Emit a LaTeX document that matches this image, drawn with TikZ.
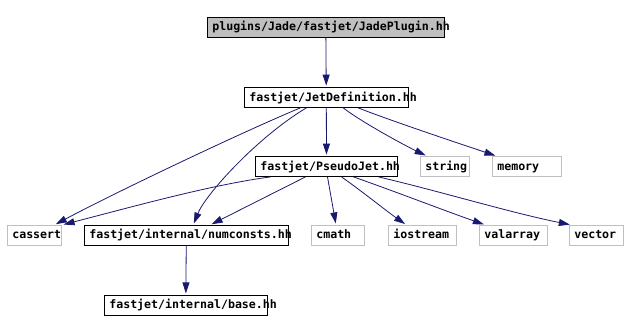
\documentclass[tikz,border=0pt]{standalone}
\usepackage{fontspec}
\usetikzlibrary{arrows.meta, calc}
\newfontfamily\depfont{DejaVu Sans Mono}[HyphenChar=None]
\definecolor{edgeblue}{HTML}{191970}
\definecolor{sysgray}{HTML}{BFBFBF}

\begin{document}
\begin{tikzpicture}[
    x=1pt, y=-1pt,
    box/.style={rectangle, draw=black, line width=0.8pt,
                minimum height=20pt, inner xsep=5pt, inner ysep=0pt,
                align=left, text height=9pt, text depth=2pt,
                font=\depfont\bfseries\fontsize{11.6}{12}\selectfont},
    sysbox/.style={box, draw=sysgray},
    rootbox/.style={box, fill=sysgray},
    arr/.style={-{Triangle[length=11pt, width=7pt]}, draw=edgeblue,
                line width=0.8pt, shorten >=1.5pt}
]
\useasboundingbox (0,0) rectangle (628,332);

\node[rootbox, text width=227pt] (jade) at (325.8,27.3) {plugins/Jade/fastjet/JadePlugin.hh};
\node[box, text width=154pt] (jetdef) at (326.3,97.5) {fastjet/JetDefinition.hh};
\node[box, text width=132.4pt] (pseudojet) at (326.5,166.5) {fastjet/PseudoJet.hh};
\node[sysbox, text width=39.4pt] (string) at (445,166.5) {string};
\node[sysbox, text width=59pt] (memory) at (526.8,166.5) {memory};

\node[sysbox, text width=44.4pt] (cassert) at (34.5,235.3) {cassert};
\node[box, text width=194pt] (numconsts) at (186.3,235.3) {fastjet/internal/numconsts.hh};
\node[sysbox, text width=43.4pt] (cmath) at (338,235.3) {cmath};
\node[sysbox, text width=58pt] (iostream) at (422.3,235.3) {iostream};
\node[sysbox, text width=58pt] (valarray) at (513.3,235.3) {valarray};
\node[sysbox, text width=44pt] (vector) at (596.3,235.3) {vector};

\node[box, text width=153pt] (base) at (185.8,305.3) {fastjet/internal/base.hh};

\draw[arr] (jade) -- (jetdef);
\draw[arr] (jetdef) -- (pseudojet);
\draw[arr] (numconsts) -- (base);

\draw[arr] ($(jetdef.south)+(17,0)$) .. controls +(15,12) and +(-25,-12) .. ($(string.north)+(-18,0)$);
\draw[arr] ($(jetdef.south)+(32,0)$) .. controls +(30,12) and +(-30,-10) .. ($(memory.north)+(-30,0)$);
\draw[arr] ($(jetdef.south)+(-26,0)$) .. controls +(-60,25) and +(60,-32) .. ($(cassert.north)+(20,0)$);
\draw[arr] ($(jetdef.south)+(-20,0)$) .. controls +(-50,30) and +(12,-30) .. ($(numconsts.north)+(7,0)$);

\draw[arr] ($(pseudojet.south)+(-56,0)$) .. controls +(-60,8) and +(70,-18) .. (cassert.north east);
\draw[arr] ($(pseudojet.south)+(-21,0)$) -- ($(numconsts.north)+(24,0)$);
\draw[arr] ($(pseudojet.south)+(1,0)$) -- ($(cmath.north)+(-2,0)$);
\draw[arr] ($(pseudojet.south)+(15,0)$) .. controls +(20,14) and +(-20,-14) .. ($(iostream.north)+(-16,0)$);
\draw[arr] ($(pseudojet.south)+(27,0)$) .. controls +(40,14) and +(-40,-14) .. ($(valarray.north)+(-28,0)$);
\draw[arr] ($(pseudojet.south)+(52,0)$) .. controls +(60,14) and +(-60,-12) .. ($(vector.north)+(-25,0)$);
\end{tikzpicture}
\end{document}
